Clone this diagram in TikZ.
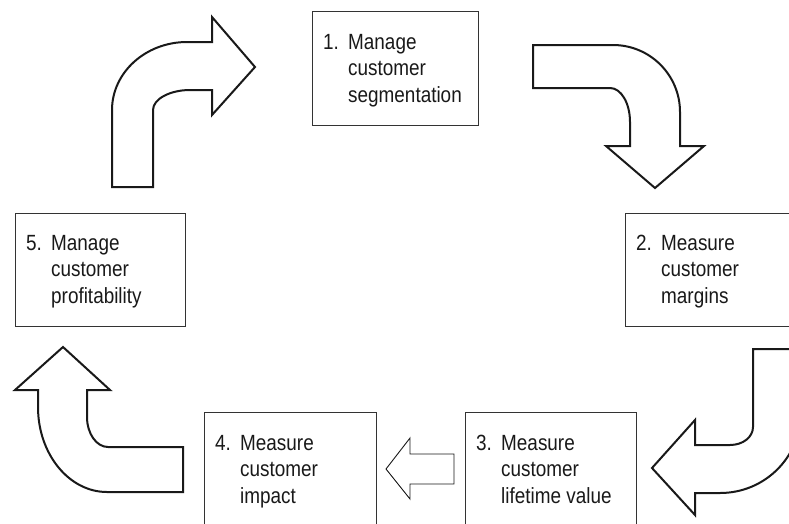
\documentclass[tikz,border=0pt]{standalone}
\usepackage{fontspec}
\setmainfont[FakeStretch=0.86]{Liberation Sans}
% three-line step label: number in its own column, words aligned after it
\newcommand\steplines[4]{\begin{tabular}[t]{@{}p{25pt}@{}l@{}}#1&#2\\&#3\\&#4\end{tabular}}
\begin{document}
\begin{tikzpicture}[x=1pt,y=-1pt,
  stepbox/.style={draw=black!80, line width=1.4pt, rectangle, anchor=north west,
                  inner sep=0pt, minimum width=#1},
  steptext/.style={anchor=base west, inner sep=0pt, text=black!90,
                   font=\fontsize{22}{26.5}\selectfont},
  bentarrow/.style={draw=black!90, line width=2pt, fill=white, line join=miter},
  flatarrow/.style={draw=black!90, line width=0.9pt, fill=white, line join=miter}]
\useasboundingbox (0,0) rectangle (789,523);
\clip (0,0) rectangle (789,523);

% step boxes
\node[stepbox=166pt, minimum height=114pt] (b1) at (312,11) {};
\node[stepbox=190pt, minimum height=113pt] (b2) at (625,213) {};
\node[stepbox=171pt, minimum height=120pt] (b3) at (465,412) {};
\node[stepbox=172pt, minimum height=120pt] (b4) at (204,412) {};
\node[stepbox=170pt, minimum height=113pt] (b5) at (15,213) {};

% step labels
\node[steptext] (t1) at (323,49)  {\steplines{1.}{Manage}{customer}{segmentation}};
\node[steptext] (t2) at (636,250) {\steplines{2.}{Measure}{customer}{margins}};
\node[steptext] (t3) at (476,450) {\steplines{3.}{Measure}{customer}{lifetime value}};
\node[steptext] (t4) at (215,450) {\steplines{4.}{Measure}{customer}{impact}};
\node[steptext] (t5) at (26,250)  {\steplines{5.}{Manage}{customer}{profitability}};

% bent arrow from step 5 up and over to step 1
\draw[bentarrow] (112,187) -- (112,110)
  .. controls (112,72.5) and (145.6,42) .. (187,42)
  -- (212,42) -- (212,17) -- (255,67) -- (212,115) -- (212,90) -- (190,90)
  .. controls (170,90) and (153,99) .. (153,110) -- (153,187) -- cycle;

% bent arrow from step 1 down to step 2
\draw[bentarrow] (533,45) -- (613,45)
  .. controls (650,45) and (680,75) .. (680,112)
  -- (680,146) -- (704,146) -- (655,188) -- (606,146) -- (630,146) -- (630,122)
  .. controls (630,103) and (621,88) .. (610,88) -- (533,88) -- cycle;

% bent arrow from step 2 down and round to step 3
\draw[bentarrow] (753,349) -- (801,349) -- (801,412)
  .. controls (801,457) and (765,493) .. (720,493)
  -- (695,493) -- (695,515) -- (652,468) -- (695,420) -- (695,445) -- (730,445)
  .. controls (743,445) and (753,437) .. (753,427) -- cycle;

% straight arrow from step 3 to step 4
\draw[flatarrow] (454,454) -- (410,454) -- (410,438) -- (386,469)
  -- (410,499) -- (410,484) -- (454,484) -- cycle;

% bent arrow from step 4 up to step 5
\draw[bentarrow] (63,347) -- (110,390) -- (87,390) -- (87,417)
  .. controls (87,433.5) and (96.4,447) .. (108,447)
  -- (183,447) -- (183,492) -- (107,492)
  .. controls (69,492) and (38,454) .. (38,407)
  -- (38,390) -- (15,390) -- cycle;
\end{tikzpicture}
\end{document}
